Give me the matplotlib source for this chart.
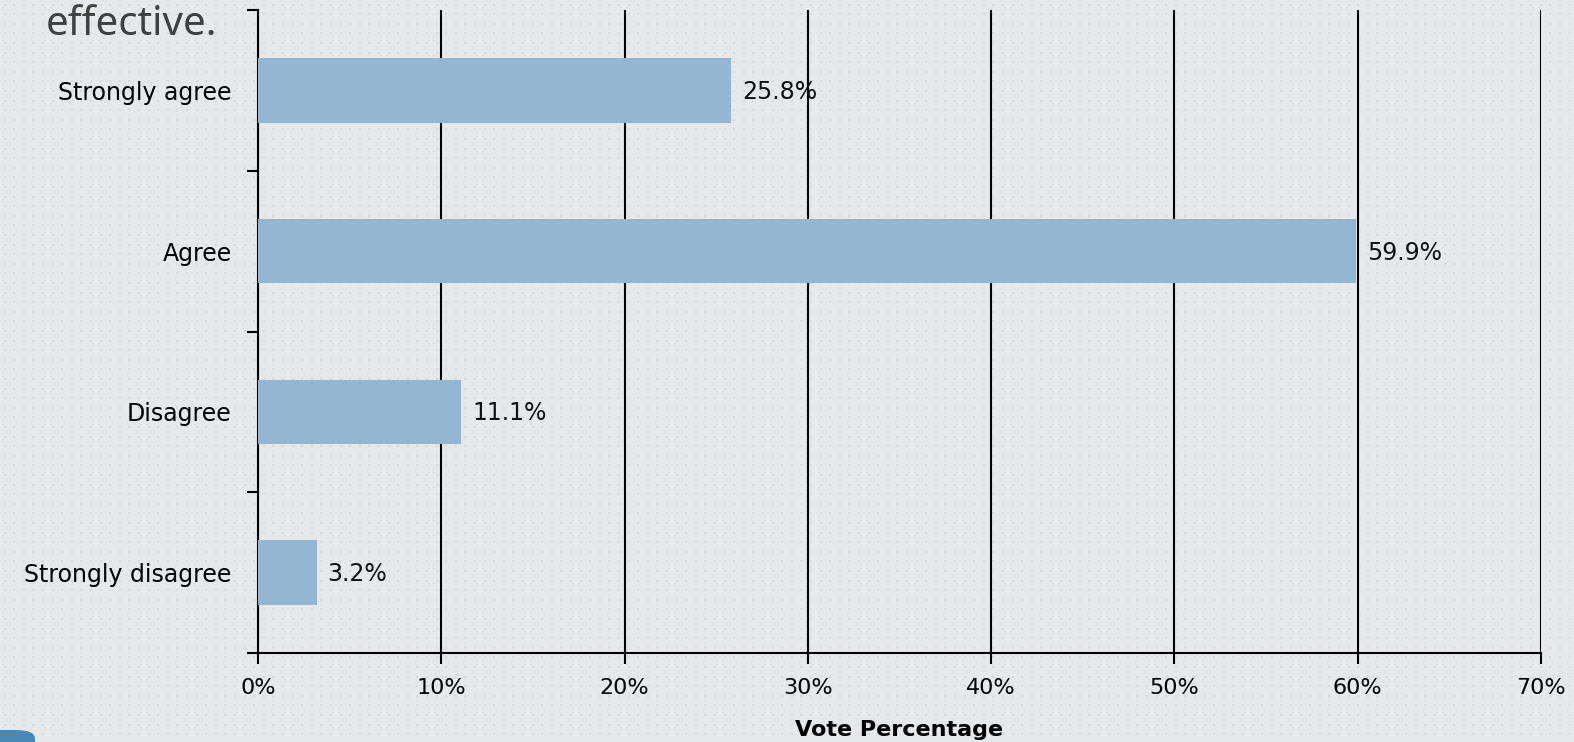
import numpy as np
import matplotlib
matplotlib.use("Agg")
import matplotlib.pyplot as plt
from matplotlib.patches import FancyBboxPatch

categories = ["Strongly agree", "Agree", "Disagree", "Strongly disagree"]
values = [25.8, 59.9, 11.1, 3.2]
xticks = [0, 10, 20, 30, 40, 50, 60, 70]
xtick_labels = ["0%", "10%", "20%", "30%", "40%", "50%", "60%", "70%"]

plt.rcParams['font.family'] = ['DejaVu Sans']

W, H = 1574, 742
fig = plt.figure(figsize=(W / 100, H / 100), dpi=100)
fig.patch.set_facecolor("#e7e8ea")

# dotted background texture
img = np.ones((H, W, 3)) * np.array([0xe7, 0xe8, 0xea]) / 255.0
step = 9.6
ys = (np.arange(4, H, step)).astype(int)
xs = (np.arange(4, W, step)).astype(int)
dot = np.array([0xd8, 0xd9, 0xdc]) / 255.0
for yy in ys:
    for dy in (0, 1):
        if yy + dy < H:
            img[yy + dy, xs] = dot
            img[yy + dy, np.clip(xs + 1, 0, W - 1)] = dot
bg_ax = fig.add_axes([0, 0, 1, 1], zorder=-5)
bg_ax.imshow(img, aspect="auto", interpolation="nearest", extent=(0, 1, 0, 1))
bg_ax.set_axis_off()

ax = fig.add_axes([258 / W, 1 - 653 / H, (1541 - 258) / W, (653 - 10) / H], zorder=1)
ax.patch.set_alpha(0)

y = np.arange(len(categories))
ax.barh(y, values, height=0.4, color="#94b6d2", zorder=3)
for yi, v in zip(y, values):
    ax.text(v + 0.6, yi + 0.01, f"{v:.1f}%", va="center", ha="left", fontsize=17, color="#111111")

ax.set_xlim(0, 70)
ax.set_ylim(len(categories) - 0.5, -0.5)
ax.set_xticks(xticks)
ax.set_xticklabels(xtick_labels, fontsize=16)
ax.set_yticks(y)
ax.set_yticklabels(categories, fontsize=17)
ax.tick_params(axis="y", length=0, pad=19)
ax.set_yticks(np.arange(-0.5, len(categories), 1.0), minor=True)
ax.tick_params(axis="y", which="minor", length=8, width=1.5, direction="out", color="black")
ax.tick_params(axis="x", length=8, width=1.5, direction="out", pad=10, color="black")
ax.xaxis.grid(True, color="black", linewidth=1.5, zorder=1)
ax.set_axisbelow(True)
for s in ["top", "right"]:
    ax.spines[s].set_visible(False)
for s in ["left", "bottom"]:
    ax.spines[s].set_linewidth(1.5)
    ax.spines[s].set_color("black")
ax.set_xlabel("Vote Percentage", fontsize=16, fontweight="bold", labelpad=16)

fig.text(46 / W, 1 - 35 / H, "effective.", fontsize=29, color="#404040", ha="left", va="baseline",
         family="Noto Sans")

blob = FancyBboxPatch((-20 / W, -20 / H), 55 / W, 32 / H, boxstyle="round,pad=0,rounding_size=0.012",
                      transform=fig.transFigure, facecolor="#4a88b6", edgecolor="none")
fig.patches.append(blob)

fig.savefig("out.png", dpi=100, facecolor=fig.get_facecolor())
